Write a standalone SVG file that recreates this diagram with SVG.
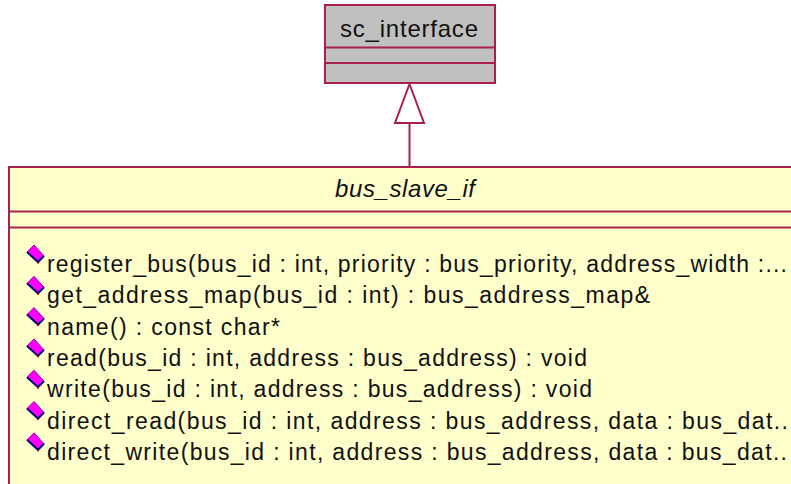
<svg xmlns="http://www.w3.org/2000/svg" width="791" height="484" viewBox="0 0 791 484">
  <style>
    .box { stroke: #a8204f; stroke-width: 2; }
    .sep { stroke: #a8204f; stroke-width: 2; fill: none; }
    .lbl { font-family: "Liberation Sans", Arial, sans-serif; font-size: 24px; fill: #111; }
    .op { font-family: "Liberation Sans", Arial, sans-serif; font-size: 23px; fill: #111; }
    .edge { stroke: #a8204f; stroke-width: 2; fill: none; }
  </style>
  <defs>
    <!-- public operation marker: magenta tilted diamond with dark lower-left edge -->
    <g id="pubop">
      <polygon points="1,8 8,1 18,12 12,18" fill="#ff00ff" stroke="#9a009a" stroke-width="1"/>
      <polyline points="1,8 12,18 18,12" fill="none" stroke="#000070" stroke-width="2"/>
      <rect x="11" y="18" width="2" height="1.5" fill="#d00000"/>
    </g>
  </defs>

  <rect width="791" height="484" fill="#ffffff"/>

  <!-- connectors -->
  <g id="connectors">
    <line class="edge" x1="409.5" y1="123" x2="409.5" y2="167"/>
    <polygon class="edge" points="409.5,84 395,123 424,123" fill="#ffffff"/>
  </g>

  <!-- interface class -->
  <g id="sc_interface">
    <rect class="box" x="325" y="5" width="170" height="78" fill="#c0c0c0"/>
    <line class="sep" x1="325" y1="47.5" x2="495" y2="47.5"/>
    <line class="sep" x1="325" y1="63" x2="495" y2="63"/>
    <text class="lbl" x="340" y="37" textLength="138" lengthAdjust="spacing">sc_interface</text>
  </g>

  <!-- abstract slave interface class -->
  <g id="bus_slave_if">
    <rect class="box" x="9" y="167" width="800" height="340" fill="#ffffcc"/>
    <line class="sep" x1="9" y1="211.5" x2="791" y2="211.5"/>
    <line class="sep" x1="9" y1="227.5" x2="791" y2="227.5"/>
    <text class="lbl" x="335" y="197" font-style="italic" textLength="140" lengthAdjust="spacing">bus_slave_if</text>

    <use href="#pubop" x="26" y="244"/>
    <text class="op" x="47" y="272" textLength="740" lengthAdjust="spacing">register_bus(bus_id : int, priority : bus_priority, address_width :...</text>
    <use href="#pubop" x="26" y="275.3"/>
    <text class="op" x="47" y="303.3" textLength="603" lengthAdjust="spacing">get_address_map(bus_id : int) : bus_address_map&amp;</text>
    <use href="#pubop" x="26" y="306.6"/>
    <text class="op" x="47" y="334.6" textLength="233" lengthAdjust="spacing">name() : const char*</text>
    <use href="#pubop" x="26" y="337.9"/>
    <text class="op" x="47" y="365.9" textLength="540" lengthAdjust="spacing">read(bus_id : int, address : bus_address) : void</text>
    <use href="#pubop" x="26" y="369.2"/>
    <text class="op" x="47" y="397.2" textLength="545" lengthAdjust="spacing">write(bus_id : int, address : bus_address) : void</text>
    <use href="#pubop" x="26" y="400.5"/>
    <text class="op" x="47" y="428.5" textLength="741" lengthAdjust="spacing">direct_read(bus_id : int, address : bus_address, data : bus_dat..</text>
    <use href="#pubop" x="26" y="431.8"/>
    <text class="op" x="47" y="459.8" textLength="740" lengthAdjust="spacing">direct_write(bus_id : int, address : bus_address, data : bus_dat..</text>
  </g>
</svg>
